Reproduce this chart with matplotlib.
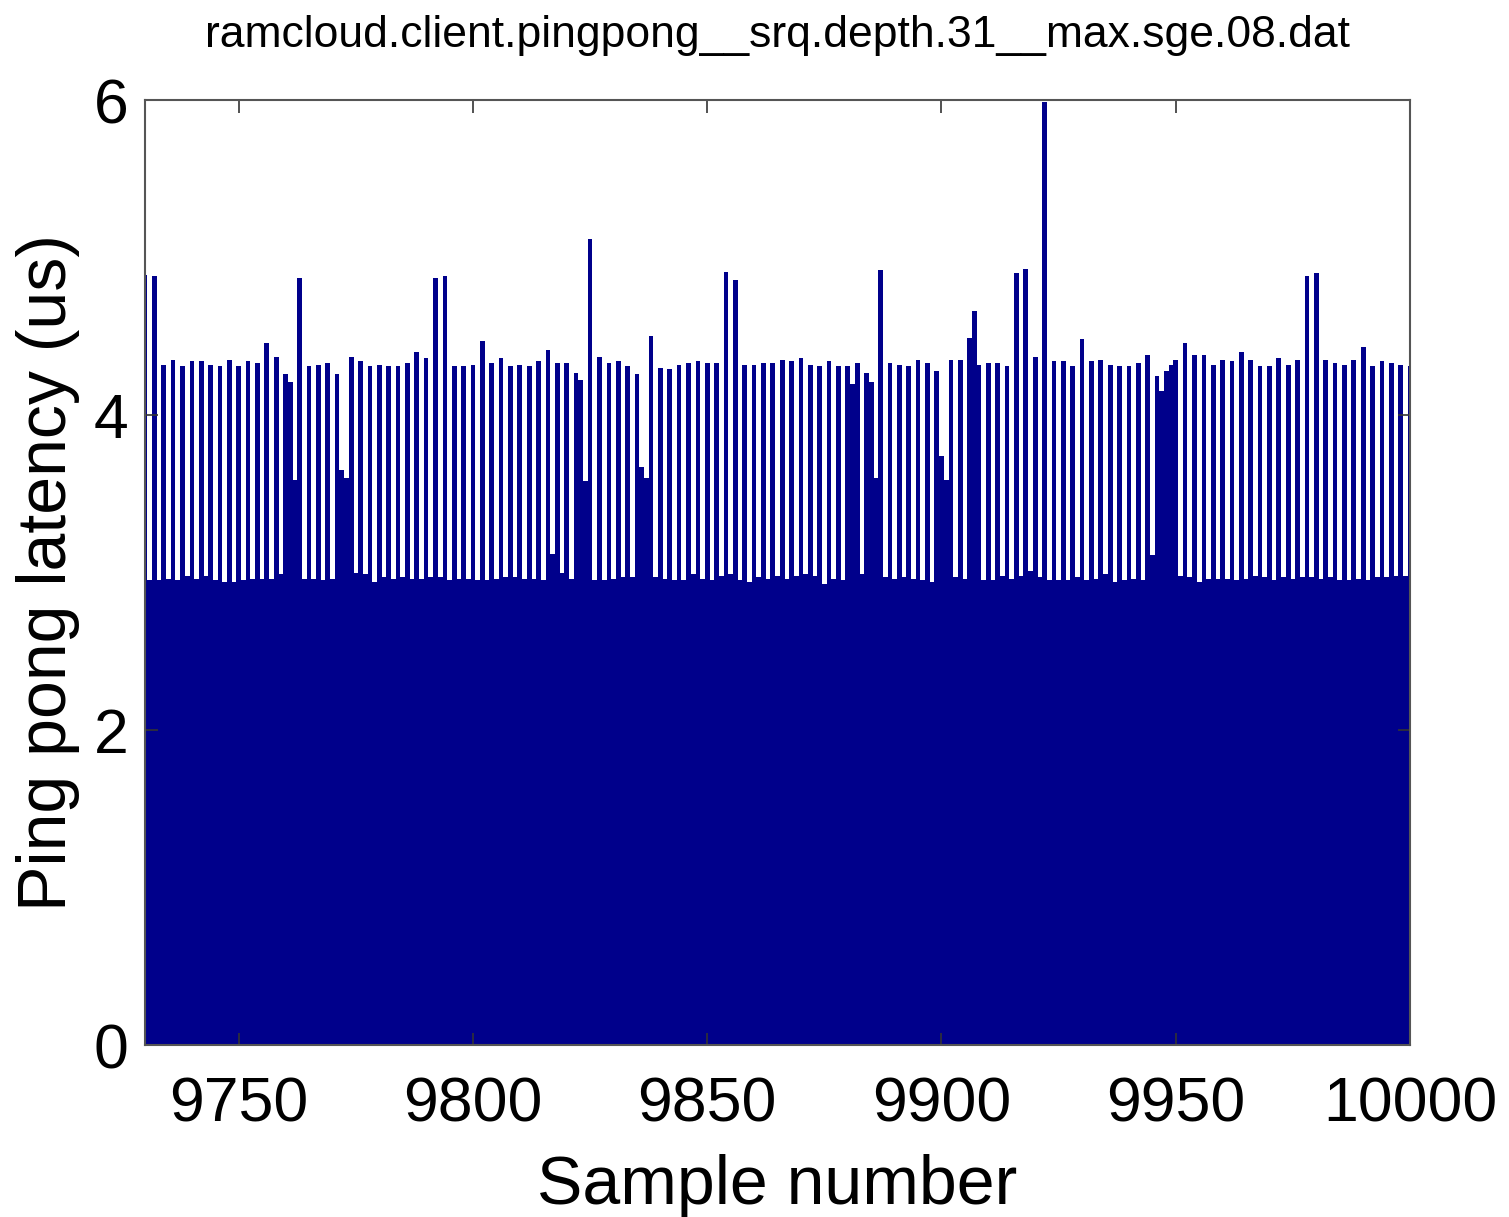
import matplotlib
import numpy as np

matplotlib.use("Agg")
import matplotlib.pyplot as plt

# ping pong latency (us) per sample, samples 9730..10000
first_sample = 9730
latency = [
    4.89, 2.95, 4.88, 2.95, 4.32, 2.96, 4.35, 2.95, 4.31, 2.98,
    4.34, 2.96, 4.34, 2.98, 4.32, 2.95, 4.31, 2.94, 4.35, 2.94,
    4.31, 2.95, 4.34, 2.96, 4.33, 2.96, 4.46, 2.96, 4.37, 2.99,
    4.26, 4.21, 3.59, 4.87, 2.96, 4.31, 2.96, 4.32, 2.95, 4.33,
    2.96, 4.26, 3.65, 3.60, 4.37, 3.00, 4.34, 2.99, 4.31, 2.94,
    4.32, 2.97, 4.31, 2.96, 4.31, 2.97, 4.33, 2.96, 4.40, 2.96,
    4.36, 2.97, 4.87, 2.97, 4.88, 2.95, 4.31, 2.96, 4.31, 2.96,
    4.32, 2.95, 4.47, 2.95, 4.33, 2.96, 4.36, 2.97, 4.31, 2.97,
    4.32, 2.96, 4.31, 2.96, 4.34, 2.95, 4.41, 3.12, 4.33, 3.00,
    4.33, 2.96, 4.27, 4.22, 3.58, 5.12, 2.95, 4.37, 2.95, 4.33,
    2.96, 4.34, 2.97, 4.31, 2.97, 4.26, 3.67, 3.60, 4.50, 2.97,
    4.30, 2.96, 4.29, 2.95, 4.32, 2.95, 4.33, 2.99, 4.34, 2.96,
    4.33, 2.95, 4.33, 2.98, 4.91, 2.99, 4.86, 2.95, 4.32, 2.94,
    4.32, 2.97, 4.33, 2.96, 4.33, 2.98, 4.35, 2.96, 4.34, 2.98,
    4.36, 2.99, 4.32, 2.98, 4.31, 2.93, 4.34, 2.96, 4.31, 2.95,
    4.31, 4.20, 4.33, 2.99, 4.27, 4.21, 3.60, 4.92, 2.97, 4.33,
    2.96, 4.32, 2.97, 4.31, 2.96, 4.35, 2.95, 4.33, 2.94, 4.28,
    3.74, 3.59, 4.35, 2.97, 4.35, 2.96, 4.49, 4.66, 4.32, 2.95,
    4.33, 2.95, 4.33, 2.98, 4.31, 2.96, 4.90, 2.98, 4.93, 3.01,
    4.37, 2.97, 5.99, 2.95, 4.34, 2.95, 4.34, 2.95, 4.31, 2.97,
    4.48, 2.95, 4.34, 2.96, 4.35, 2.99, 4.32, 2.94, 4.31, 2.95,
    4.31, 2.96, 4.33, 2.95, 4.38, 3.11, 4.25, 4.15, 4.28, 4.32,
    4.35, 2.98, 4.46, 2.97, 4.38, 2.94, 4.38, 2.96, 4.32, 2.96,
    4.35, 2.96, 4.34, 2.95, 4.40, 2.96, 4.35, 2.98, 4.31, 2.97,
    4.31, 2.95, 4.36, 2.97, 4.32, 2.96, 4.35, 2.97, 4.88, 2.97,
    4.90, 2.96, 4.35, 2.97, 4.33, 2.95, 4.32, 2.95, 4.35, 2.96,
    4.43, 2.95, 4.31, 2.97, 4.34, 2.97, 4.33, 2.98, 4.32, 2.98,
    4.31,
]
x_ticks = [9750, 9800, 9850, 9900, 9950, 10000]
y_ticks = [0, 2, 4, 6]
title = "ramcloud.client.pingpong__srq.depth.31__max.sge.08.dat"

samples = np.arange(first_sample, first_sample + len(latency))

plt.rcParams["font.family"] = ["Liberation Sans", "DejaVu Sans"]

fig = plt.figure(figsize=(15.09, 12.17), dpi=100)
ax = fig.add_axes([0.0961, 0.1413, 0.8383, 0.7765])

ax.bar(samples, latency, width=1.0, color="#00008B", linewidth=0, antialiased=False)

ax.set_xlim(first_sample, 10000)
ax.set_ylim(0, 6)
ax.set_xticks(x_ticks)
ax.set_yticks(y_ticks)
ax.tick_params(direction="in", length=9, width=1.2, color="#333333",
               top=True, right=True, labelsize=45)
ax.tick_params(axis="x", pad=22)
ax.tick_params(axis="y", pad=12)
for spine in ax.spines.values():
    spine.set_color("#555555")
    spine.set_linewidth(1.5)
    spine.set_zorder(5)

ax.set_xlabel("Sample number", fontsize=49, labelpad=14)
ax.set_ylabel("Ping pong latency (us)", fontsize=49, labelpad=10)
ax.set_title(title, fontsize=32, pad=38)

fig.savefig("out.png", dpi=100)
plt.close(fig)
